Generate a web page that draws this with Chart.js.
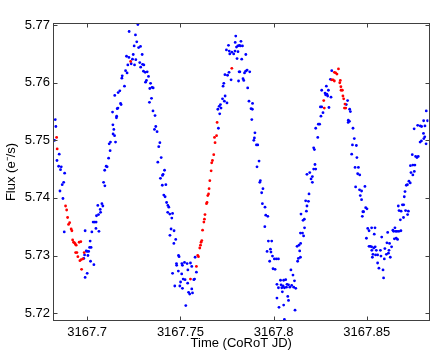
<!DOCTYPE html>
<html><head><meta charset="utf-8">
<script src="https://cdn.jsdelivr.net/npm/chart.js@4/dist/chart.umd.min.js"></script>
<style>html,body{margin:0;padding:0;background:#fff}canvas{display:block}</style>
</head><body>
<canvas id="c" width="436" height="354"></canvas>
<script>
const xTickValues = [3167.7, 3167.75, 3167.8, 3167.85];
const xTickLabels = ['3167.7', '3167.75', '3167.8', '3167.85'];
const yTickValues = [5.72, 5.73, 5.74, 5.75, 5.76, 5.77];
const yTickLabels = ['5.72', '5.73', '5.74', '5.75', '5.76', '5.77'];
const xRange = [3167.6822, 3167.8831];
const yRange = [5.7188, 5.7702];

const redSeries = [
[3167.6836,5.7505],[3167.6839,5.7485],[3167.6884,5.7386],[3167.6890,5.7379],[3167.6895,5.7366],
[3167.6906,5.7357],[3167.6900,5.7354],[3167.6914,5.7346],[3167.6918,5.7343],[3167.6922,5.7327],
[3167.6927,5.7323],[3167.6932,5.7322],[3167.6941,5.7318],[3167.6936,5.7320],[3167.6957,5.7323],
[3167.6966,5.7324],[3167.6945,5.7305],[3167.6938,5.7305],[3167.6950,5.7298],[3167.6961,5.7291],
[3167.6968,5.7293],[3167.6977,5.7294],[3167.6970,5.7276],[3167.6984,5.7305],[3167.7233,5.7637],
[3167.7554,5.7259],[3167.7586,5.7281],[3167.7593,5.7300],[3167.7597,5.7298],[3167.7604,5.7313],
[3167.7608,5.7318],[3167.7611,5.7323],[3167.7615,5.7326],[3167.7619,5.7344],[3167.7626,5.7358],
[3167.7629,5.7363],[3167.7632,5.7371],[3167.7640,5.7390],[3167.7643,5.7392],[3167.7647,5.7404],
[3167.7651,5.7407],[3167.7654,5.7416],[3167.7658,5.7430],[3167.7665,5.7447],[3167.7668,5.7461],
[3167.7672,5.7465],[3167.7679,5.7475],[3167.7686,5.7496],[3167.7683,5.7505],[3167.7694,5.7508],
[3167.7697,5.7531],[3167.7776,5.7625],[3167.8269,5.7569],[3167.8272,5.7556],[3167.8312,5.7605],
[3167.8319,5.7605],[3167.8326,5.7603],[3167.8326,5.7618],[3167.8333,5.7617],[3167.8340,5.7615],
[3167.8348,5.7624],[3167.8355,5.7600],[3167.8358,5.7604],[3167.8361,5.7593],[3167.8369,5.7587],
[3167.8362,5.7587],[3167.8372,5.7577],[3167.8376,5.7572],[3167.8383,5.7563],[3167.8380,5.7556],
[3167.8387,5.7556]
];

const blueSeries = [
[3167.6829,5.7536],[3167.6832,5.7524],[3167.6825,5.7500],[3167.6838,5.7465],[3167.6850,5.7476],
[3167.6847,5.7455],[3167.6861,5.7454],[3167.6857,5.7449],[3167.6879,5.7443],[3167.6874,5.7427],
[3167.6866,5.7423],[3167.6854,5.7412],[3167.6870,5.7399],[3167.6877,5.7341],[3167.6989,5.7343],
[3167.7000,5.7307],[3167.6995,5.7308],[3167.7008,5.7307],[3167.7013,5.7314],[3167.7016,5.7325],
[3167.7021,5.7314],[3167.7004,5.7300],[3167.6982,5.7295],[3167.6986,5.7301],[3167.7018,5.7290],
[3167.7036,5.7284],[3167.7000,5.7269],[3167.6989,5.7262],[3167.7025,5.7341],[3167.7032,5.7358],
[3167.7040,5.7358],[3167.7048,5.7358],[3167.7047,5.7347],[3167.7063,5.7342],[3167.7050,5.7369],
[3167.7061,5.7371],[3167.7072,5.7375],[3167.7070,5.7380],[3167.7057,5.7387],[3167.7079,5.7390],
[3167.7084,5.7386],[3167.7088,5.7427],[3167.7095,5.7421],[3167.7094,5.7448],[3167.7102,5.7455],
[3167.7107,5.7454],[3167.7115,5.7469],[3167.7123,5.7482],[3167.7118,5.7494],[3167.7125,5.7497],
[3167.7139,5.7511],[3167.7143,5.7519],[3167.7138,5.7527],[3167.7147,5.7508],[3167.7136,5.7549],
[3167.7148,5.7578],[3167.7166,5.7583],[3167.7175,5.7586],[3167.7188,5.7612],[3167.7186,5.7608],
[3167.7200,5.7594],[3167.7161,5.7555],[3167.7165,5.7556],[3167.7179,5.7564],[3167.7182,5.7562],
[3167.7158,5.7542],[3167.7157,5.7539],[3167.7152,5.7497],[3167.7206,5.7621],[3167.7214,5.7617],
[3167.7211,5.7646],[3167.7224,5.7644],[3167.7218,5.7631],[3167.7236,5.7633],[3167.7243,5.7641],
[3167.7254,5.7631],[3167.7247,5.7649],[3167.7261,5.7640],[3167.7225,5.7689],[3167.7259,5.7683],
[3167.7272,5.7701],[3167.7266,5.7671],[3167.7252,5.7664],[3167.7276,5.7661],[3167.7286,5.7663],
[3167.7295,5.7649],[3167.7282,5.7635],[3167.7287,5.7627],[3167.7304,5.7631],[3167.7297,5.7632],
[3167.7302,5.7620],[3167.7311,5.7618],[3167.7322,5.7619],[3167.7318,5.7604],[3167.7313,5.7601],
[3167.7329,5.7611],[3167.7340,5.7599],[3167.7336,5.7590],[3167.7348,5.7592],[3167.7354,5.7591],
[3167.7345,5.7573],[3167.7334,5.7566],[3167.7353,5.7551],[3167.7364,5.7543],[3167.7368,5.7524],
[3167.7361,5.7519],[3167.7375,5.7515],[3167.7390,5.7496],[3167.7384,5.7489],[3167.7397,5.7470],
[3167.7379,5.7462],[3167.7415,5.7448],[3167.7407,5.7441],[3167.7404,5.7439],[3167.7393,5.7434],
[3167.7422,5.7423],[3167.7403,5.7422],[3167.7411,5.7405],[3167.7418,5.7402],[3167.7426,5.7392],
[3167.7433,5.7387],[3167.7438,5.7384],[3167.7432,5.7375],[3167.7443,5.7372],[3167.7454,5.7365],
[3167.7458,5.7373],[3167.7450,5.7346],[3167.7466,5.7343],[3167.7444,5.7335],[3167.7475,5.7328],
[3167.7465,5.7321],[3167.7458,5.7269],[3167.7470,5.7247],[3167.7490,5.7300],[3167.7493,5.7298],
[3167.7479,5.7286],[3167.7480,5.7283],[3167.7489,5.7273],[3167.7508,5.7286],[3167.7522,5.7288],
[3167.7511,5.7283],[3167.7536,5.7286],[3167.7554,5.7287],[3167.7561,5.7281],[3167.7540,5.7275],
[3167.7507,5.7268],[3167.7515,5.7259],[3167.7525,5.7258],[3167.7501,5.7254],[3167.7497,5.7247],
[3167.7511,5.7243],[3167.7539,5.7252],[3167.7544,5.7236],[3167.7550,5.7233],[3167.7561,5.7242],
[3167.7565,5.7235],[3167.7572,5.7258],[3167.7576,5.7259],[3167.7586,5.7271],[3167.7579,5.7297],
[3167.7529,5.7213],[3167.7704,5.7521],[3167.7711,5.7546],[3167.7701,5.7554],[3167.7708,5.7559],
[3167.7718,5.7556],[3167.7715,5.7562],[3167.7726,5.7572],[3167.7740,5.7577],[3167.7736,5.7568],
[3167.7750,5.7565],[3167.7729,5.7594],[3167.7733,5.7599],[3167.7739,5.7614],[3167.7753,5.7613],
[3167.7761,5.7618],[3167.7772,5.7605],[3167.7765,5.7650],[3167.7758,5.7665],[3167.7747,5.7657],
[3167.7762,5.7655],[3167.7776,5.7653],[3167.7786,5.7650],[3167.7793,5.7655],[3167.7801,5.7662],
[3167.7794,5.7670],[3167.7797,5.7681],[3167.7808,5.7664],[3167.7804,5.7642],[3167.7815,5.7619],
[3167.7812,5.7603],[3167.7816,5.7665],[3167.7825,5.7672],[3167.7822,5.7664],[3167.7833,5.7664],
[3167.7809,5.7654],[3167.7829,5.7641],[3167.7851,5.7649],[3167.7819,5.7619],[3167.7844,5.7617],
[3167.7850,5.7620],[3167.7858,5.7622],[3167.7872,5.7619],[3167.7836,5.7607],[3167.7840,5.7604],
[3167.7861,5.7591],[3167.7868,5.7568],[3167.7887,5.7564],[3167.7879,5.7555],[3167.7886,5.7554],
[3167.7883,5.7536],[3167.7900,5.7513],[3167.7897,5.7504],[3167.7894,5.7500],[3167.7908,5.7492],
[3167.7915,5.7492],[3167.7922,5.7464],[3167.7911,5.7454],[3167.7929,5.7430],[3167.7926,5.7427],
[3167.7943,5.7416],[3167.7936,5.7409],[3167.7940,5.7390],[3167.7954,5.7384],[3167.7958,5.7370],
[3167.7969,5.7368],[3167.7953,5.7350],[3167.7972,5.7325],[3167.7990,5.7325],[3167.7965,5.7307],
[3167.7983,5.7311],[3167.7986,5.7306],[3167.7994,5.7299],[3167.7979,5.7290],[3167.8004,5.7294],
[3167.8015,5.7294],[3167.8026,5.7294],[3167.7997,5.7277],[3167.8008,5.7276],[3167.8037,5.7257],
[3167.8040,5.7249],[3167.8054,5.7257],[3167.8065,5.7258],[3167.8093,5.7275],[3167.8104,5.7266],
[3167.8080,5.7249],[3167.8087,5.7245],[3167.8097,5.7248],[3167.8112,5.7256],[3167.8018,5.7250],
[3167.8026,5.7244],[3167.8044,5.7244],[3167.8051,5.7247],[3167.8058,5.7244],[3167.8069,5.7245],
[3167.8072,5.7250],[3167.8108,5.7245],[3167.8119,5.7243],[3167.8047,5.7237],[3167.8076,5.7229],
[3167.8018,5.7226],[3167.8054,5.7214],[3167.8029,5.7210],[3167.8080,5.7222],[3167.8115,5.7205],
[3167.8058,5.7189],[3167.8147,5.7372],[3167.8144,5.7339],[3167.8126,5.7316],[3167.8136,5.7318],
[3167.8140,5.7308],[3167.8133,5.7295],[3167.8129,5.7290],[3167.8144,5.7297],[3167.8145,5.7321],
[3167.8155,5.7339],[3167.8161,5.7334],[3167.8158,5.7361],[3167.8165,5.7363],[3167.8166,5.7348],
[3167.8176,5.7377],[3167.8179,5.7386],[3167.8172,5.7395],[3167.8187,5.7394],[3167.8190,5.7407],
[3167.8179,5.7441],[3167.8194,5.7444],[3167.8201,5.7433],[3167.8208,5.7427],[3167.8208,5.7437],
[3167.8215,5.7450],[3167.8226,5.7450],[3167.8222,5.7458],[3167.8215,5.7487],[3167.8219,5.7484],
[3167.8237,5.7505],[3167.8226,5.7521],[3167.8240,5.7528],[3167.8247,5.7528],[3167.8254,5.7542],
[3167.8265,5.7548],[3167.8251,5.7558],[3167.8258,5.7558],[3167.8279,5.7579],[3167.8286,5.7580],
[3167.8276,5.7582],[3167.8290,5.7577],[3167.8297,5.7557],[3167.8308,5.7575],[3167.8258,5.7587],
[3167.8294,5.7587],[3167.8283,5.7594],[3167.8305,5.7606],[3167.8312,5.7621],[3167.8397,5.7569],
[3167.8390,5.7562],[3167.8408,5.7554],[3167.8412,5.7550],[3167.8401,5.7535],[3167.8407,5.7533],
[3167.8400,5.7531],[3167.8426,5.7521],[3167.8433,5.7503],[3167.8423,5.7492],[3167.8444,5.7491],
[3167.8419,5.7476],[3167.8447,5.7470],[3167.8437,5.7453],[3167.8455,5.7453],[3167.8451,5.7442],
[3167.8462,5.7440],[3167.8440,5.7419],[3167.8461,5.7414],[3167.8472,5.7412],[3167.8465,5.7404],
[3167.8472,5.7397],[3167.8479,5.7376],[3167.8476,5.7368],[3167.8490,5.7420],[3167.8494,5.7383],
[3167.8501,5.7381],[3167.8483,5.7376],[3167.8505,5.7347],[3167.8512,5.7343],[3167.8526,5.7348],
[3167.8544,5.7348],[3167.8540,5.7337],[3167.8498,5.7330],[3167.8512,5.7316],[3167.8519,5.7316],
[3167.8526,5.7315],[3167.8537,5.7313],[3167.8545,5.7315],[3167.8533,5.7302],[3167.8530,5.7297],
[3167.8527,5.7309],[3167.8551,5.7309],[3167.8547,5.7301],[3167.8558,5.7301],[3167.8558,5.7287],
[3167.8565,5.7278],[3167.8573,5.7309],[3167.8576,5.7299],[3167.8580,5.7332],[3167.8587,5.7275],
[3167.8594,5.7294],[3167.8590,5.7261],[3167.8597,5.7312],[3167.8605,5.7302],[3167.8608,5.7322],
[3167.8612,5.7340],[3167.8616,5.7304],[3167.8619,5.7309],[3167.8622,5.7321],[3167.8626,5.7297],
[3167.8633,5.7315],[3167.8640,5.7344],[3167.8644,5.7342],[3167.8651,5.7348],[3167.8648,5.7329],
[3167.8655,5.7342],[3167.8658,5.7330],[3167.8662,5.7342],[3167.8665,5.7328],[3167.8672,5.7342],
[3167.8683,5.7343],[3167.8680,5.7362],[3167.8673,5.7378],[3167.8669,5.7386],[3167.8684,5.7377],
[3167.8691,5.7388],[3167.8698,5.7388],[3167.8697,5.7366],[3167.8708,5.7378],[3167.8723,5.7377],
[3167.8719,5.7371],[3167.8701,5.7402],[3167.8705,5.7411],[3167.8712,5.7422],[3167.8718,5.7423],
[3167.8726,5.7429],[3167.8733,5.7426],[3167.8737,5.7444],[3167.8747,5.7440],[3167.8755,5.7446],
[3167.8734,5.7456],[3167.8747,5.7457],[3167.8758,5.7457],[3167.8744,5.7475],[3167.8762,5.7472],
[3167.8769,5.7470],[3167.8776,5.7472],[3167.8754,5.7520],[3167.8773,5.7526],[3167.8787,5.7525],
[3167.8794,5.7524],[3167.8805,5.7534],[3167.8812,5.7525],[3167.8826,5.7534],[3167.8819,5.7551],
[3167.8804,5.7512],[3167.8811,5.7506],[3167.8786,5.7497],[3167.8793,5.7499],[3167.8806,5.7503],
[3167.8818,5.7494]
];

const toPoints = arr => arr.map(p => ({x: p[0], y: p[1]}));
const FONT = 'Liberation Sans, Arial, Helvetica, sans-serif';

const boxTicks = {
  id: 'boxTicks',
  afterDatasetsDraw(chart) {
    const {ctx, chartArea: a, scales: {x, y}} = chart;
    const L = Math.round(a.left) - 0.5, R = Math.round(a.right) + 0.5;
    const T = Math.round(a.top) - 0.5, B = Math.round(a.bottom) + 0.5;
    const len = 4;
    ctx.save();
    ctx.strokeStyle = '#404040';
    ctx.lineWidth = 1;
    ctx.strokeRect(L, T, R - L, B - T);
    ctx.beginPath();
    xTickValues.forEach(v => {
      const px = Math.round(x.getPixelForValue(v)) + 0.5;
      ctx.moveTo(px, B); ctx.lineTo(px, B - len);
      ctx.moveTo(px, T); ctx.lineTo(px, T + len);
    });
    yTickValues.forEach(v => {
      const py = Math.round(y.getPixelForValue(v)) + 0.5;
      ctx.moveTo(L, py); ctx.lineTo(L + len, py);
      ctx.moveTo(R, py); ctx.lineTo(R - len, py);
    });
    ctx.stroke();
    ctx.restore();
  }
};

new Chart(document.getElementById('c'), {
  type: 'scatter',
  data: {
    datasets: [
      {data: toPoints(redSeries), backgroundColor: '#ff0000', borderWidth: 0, pointRadius: 1.4},
      {data: toPoints(blueSeries), backgroundColor: '#0000ff', borderWidth: 0, pointRadius: 1.4}
    ]
  },
  options: {
    responsive: false,
    animation: false,
    events: [],
    layout: {padding: {left: 0, right: 7.5, top: 24, bottom: 0}},
    plugins: {legend: {display: false}, tooltip: {enabled: false}},
    scales: {
      x: {
        type: 'linear', min: xRange[0], max: xRange[1],
        grid: {display: false, drawTicks: false},
        border: {display: false},
        afterBuildTicks: s => { s.ticks = xTickValues.map(v => ({value: v})); },
        afterFit: s => { s.height = 34; },
        ticks: {
          autoSkip: false, maxRotation: 0, padding: 5, color: '#000',
          font: {family: FONT, size: 13},
          callback: (v, i) => xTickLabels[i]
        },
        title: {display: true, text: 'Time (CoRoT JD)', color: '#000',
                font: {family: FONT, size: 13}, padding: {top: 0, bottom: 3}}
      },
      y: {
        type: 'linear', min: yRange[0], max: yRange[1],
        grid: {display: false, drawTicks: false},
        border: {display: false},
        afterBuildTicks: s => { s.ticks = yTickValues.map(v => ({value: v})); },
        afterFit: s => { s.width = 54; },
        ticks: {
          autoSkip: false, padding: 4, color: '#000',
          font: {family: FONT, size: 13},
          callback: (v, i) => yTickLabels[i]
        },
        title: {display: true, text: 'Flux (e\u207B/s)', color: '#000',
                font: {family: FONT, size: 13}, padding: {top: 4, bottom: 4}}
      }
    }
  },
  plugins: [boxTicks]
});
</script>
</body></html>
